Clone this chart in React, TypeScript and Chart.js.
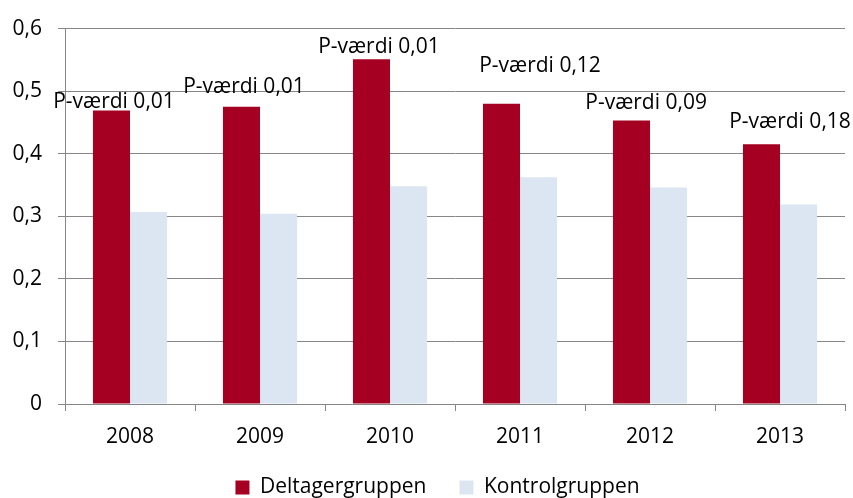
import React, { useEffect, useRef } from "react";
import { Chart, registerables } from "chart.js";

Chart.register(...registerables);

const years = ["2008", "2009", "2010", "2011", "2012", "2013"];
const deltagerGruppen = [0.469, 0.475, 0.551, 0.48, 0.453, 0.415];
const kontrolGruppen = [0.307, 0.304, 0.348, 0.3625, 0.346, 0.319];
const pLabels = [
  "P-værdi 0,01",
  "P-værdi 0,01",
  "P-værdi 0,01",
  "P-værdi 0,12",
  "P-værdi 0,09",
  "P-værdi 0,18",
];
// annotation anchors: vertical in data units, horizontal shift in category widths
const pLabelY = [0.483, 0.507, 0.57, 0.54, 0.481, 0.45];
const pLabelShift = [-0.123, -0.123, -0.085, 0.154, -0.03, 0.077];

const FONT = "'Open Sans'";
const FONT_SIZE = 21;
const RED = "#A50021";
const BLUE = "#DCE6F2";
const GRID = "#868686";
const LEGEND_SHIFT = 15;

const pValuePlugin = {
  id: "pValueLabels",
  afterDatasetsDraw(chart: any) {
    const { ctx, scales } = chart;
    const x = scales.x;
    const y = scales.y;
    const step = x.getPixelForValue(1) - x.getPixelForValue(0);
    ctx.save();
    ctx.font = `${FONT_SIZE}px ${FONT}`;
    ctx.fillStyle = "#000";
    ctx.textAlign = "center";
    ctx.textBaseline = "middle";
    pLabels.forEach((t, i) => {
      ctx.fillText(
        t,
        x.getPixelForValue(i) + pLabelShift[i] * step,
        y.getPixelForValue(pLabelY[i])
      );
    });
    ctx.restore();
  },
};

const legendShiftPlugin = {
  id: "legendShift",
  afterLayout(chart: any) {
    const l = chart.legend;
    if (l) {
      l.left += LEGEND_SHIFT;
      l.right += LEGEND_SHIFT;
    }
  },
};

export default function App() {
  const ref = useRef<HTMLCanvasElement | null>(null);

  useEffect(() => {
    if (!ref.current) return;
    const font = { family: FONT, size: FONT_SIZE };
    const chart = new Chart(ref.current, {
      type: "bar",
      data: {
        labels: years,
        datasets: [
          {
            label: "Deltagergruppen",
            data: deltagerGruppen,
            backgroundColor: RED,
            borderWidth: 0,
          },
          {
            label: "Kontrolgruppen",
            data: kontrolGruppen,
            backgroundColor: BLUE,
            borderWidth: 0,
          },
        ],
      },
      options: {
        animation: false,
        responsive: true,
        maintainAspectRatio: false,
        datasets: {
          bar: { categoryPercentage: 0.57, barPercentage: 1 },
        },
        layout: { padding: { top: 25, right: 8, left: 0, bottom: 0 } },
        plugins: {
          tooltip: { enabled: false },
          legend: {
            position: "bottom",
            maxHeight: 54,
            labels: {
              boxWidth: 14,
              boxHeight: 14,
              padding: 33,
              color: "#000",
              font,
            },
          },
        },
        scales: {
          x: {
            offset: true,
            grid: {
              offset: true,
              drawOnChartArea: false,
              drawTicks: true,
              tickLength: 7,
              color: GRID,
            },
            border: { color: GRID },
            ticks: { color: "#000", font, padding: 13 },
            afterFit: (s: any) => {
              s.height = 40;
            },
          },
          y: {
            min: 0,
            max: 0.6,
            ticks: {
              stepSize: 0.1,
              color: "#000",
              font,
              padding: 16,
              callback: (v: any) =>
                Number(v) === 0 ? "0" : Number(v).toFixed(1).replace(".", ","),
            },
            grid: { color: GRID, tickLength: 7 },
            border: { color: GRID },
            afterFit: (s: any) => {
              s.width = 65;
            },
          },
        },
      },
      plugins: [pValuePlugin, legendShiftPlugin],
    });
    return () => chart.destroy();
  }, []);

  return (
    <div
      style={{
        position: "fixed",
        left: 0,
        top: 0,
        width: 853,
        height: 498,
        background: "#fff",
      }}
    >
      <canvas ref={ref} />
    </div>
  );
}
